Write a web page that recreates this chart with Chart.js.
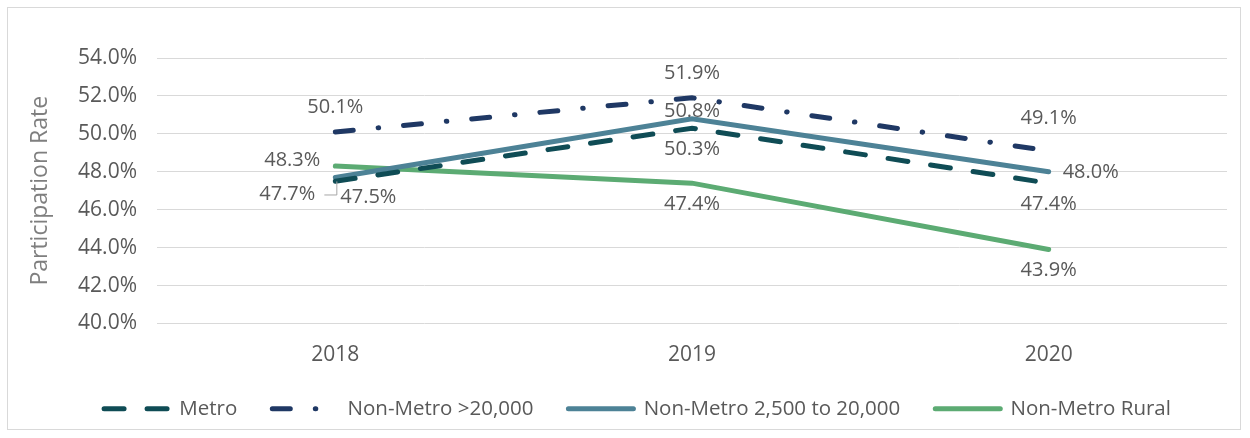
<!DOCTYPE html>
<html>
<head>
<meta charset="utf-8">
<script src="https://cdn.jsdelivr.net/npm/chart.js@4.4.1/dist/chart.umd.min.js"></script>
<style>
  html, body { margin: 0; padding: 0; background: #fff; }
  #wrap { position: relative; width: 1250px; height: 438px; }
  #frame { position: absolute; left: 7px; top: 7px; width: 1234px; height: 423px; border: 1px solid #d9d9d9; box-sizing: border-box; }
  canvas { position: absolute; left: 0; top: 0; }
</style>
</head>
<body>
<div id="wrap">
  <div id="frame"></div>
  <canvas id="myChart" width="1250" height="438"></canvas>
</div>
<script>
// data
const years = ['2018', '2019', '2020'];
const metro = [47.5, 50.3, 47.4];
const nonMetroLarge = [50.1, 51.9, 49.1];
const nonMetroSmall = [47.7, 50.8, 48.0];
const nonMetroRural = [48.3, 47.4, 43.9];
const seriesNames = ['Metro', 'Non-Metro >20,000', 'Non-Metro 2,500 to 20,000', 'Non-Metro Rural'];
const yMin = 40, yMax = 54, yStep = 2;

// where each value label sits next to its point
const labelPlace = [
  ['belowRight', 'below', 'below'],
  ['above', 'above', 'aboveFar'],
  ['leftLeader', 'aboveClose', 'right'],
  ['left', 'below', 'below']
];

const textColor = '#595959';
Chart.defaults.font.family = "'Open Sans', sans-serif";
Chart.defaults.font.size = 21;
Chart.defaults.color = textColor;

const valueLabels = {
  id: 'valueLabels',
  afterDatasetsDraw(chart) {
    const ctx = chart.ctx;
    ctx.save();
    ctx.font = "20px 'Open Sans', sans-serif";
    ctx.fillStyle = textColor;
    ctx.textBaseline = 'middle';
    chart.data.datasets.forEach((ds, i) => {
      const meta = chart.getDatasetMeta(i);
      meta.data.forEach((pt, j) => {
        const txt = ds.data[j].toFixed(1) + '%';
        const p = labelPlace[i][j];
        let x = pt.x, y = pt.y, align = 'center';
        if (p === 'above') { y -= 25; }
        else if (p === 'aboveFar') { y -= 33; }
        else if (p === 'aboveClose') { y -= 7; }
        else if (p === 'below') { y += 21; }
        else if (p === 'belowRight') { x += 33; y += 16; }
        else if (p === 'left') { x -= 15; y -= 6; align = 'right'; }
        else if (p === 'right') { x += 14; y += 1; align = 'left'; }
        else if (p === 'leftLeader') {
          x -= 20; y += 17; align = 'right';
          ctx.save();
          ctx.strokeStyle = '#a6a6a6';
          ctx.lineWidth = 1;
          ctx.beginPath();
          ctx.moveTo(pt.x - 11, y + 0.5);
          ctx.lineTo(pt.x + 1.5, y + 0.5);
          ctx.lineTo(pt.x + 1.5, pt.y + 4);
          ctx.stroke();
          ctx.restore();
        }
        ctx.textAlign = align;
        ctx.fillText(txt, x, y);
      });
    });
    ctx.restore();
  }
};

// nudge the centred legend row to where the original puts it
const legendShift = {
  id: 'legendShift',
  afterLayout(chart) {
    chart.legend.left += 19;
    chart.legend.right += 19;
  }
};

const ctx = document.getElementById('myChart');

new Chart(ctx, {
  type: 'line',
  data: {
    labels: years,
    datasets: [
      {
        label: seriesNames[0],
        data: metro,
        borderColor: '#0f4c55',
        borderWidth: 5,
        borderDash: [20, 23],
        borderCapStyle: 'round'
      },
      {
        label: seriesNames[1],
        data: nonMetroLarge,
        borderColor: '#1f3864',
        borderWidth: 5,
        borderDash: [18, 25, 0.5, 25],
        borderCapStyle: 'round'
      },
      {
        label: seriesNames[2],
        data: nonMetroSmall,
        borderColor: '#4d8296',
        borderWidth: 5,
        borderCapStyle: 'round'
      },
      {
        label: seriesNames[3],
        data: nonMetroRural,
        borderColor: '#5cab73',
        borderWidth: 5,
        borderCapStyle: 'round'
      }
    ]
  },
  options: {
    responsive: false,
    animation: false,
    elements: { point: { radius: 0, hoverRadius: 0 }, line: { tension: 0 } },
    layout: { padding: { left: 10, right: 23, top: 58, bottom: 9 } },
    scales: {
      x: {
        offset: true,
        grid: { display: false, drawTicks: false },
        border: { display: false },
        ticks: { padding: 19, color: textColor },
        afterFit(scale) { scale.height = 40; }
      },
      y: {
        min: yMin,
        max: yMax,
        grid: { color: '#d9d9d9', drawTicks: false },
        border: { display: false },
        ticks: {
          stepSize: yStep,
          padding: 20,
          color: textColor,
          callback: v => v.toFixed(1) + '%'
        },
        title: { display: true, text: 'Participation Rate', color: '#7f7f7f', font: { size: 23 }, padding: { top: 17, bottom: 0 } },
        afterFit(scale) { scale.width = 147; }
      }
    },
    plugins: {
      tooltip: { enabled: false },
      legend: {
        position: 'bottom',
        labels: {
          usePointStyle: true,
          pointStyleWidth: 65,
          boxHeight: 5,
          padding: 35,
          color: textColor,
          font: { size: 20.5 },
          generateLabels(chart) {
            return chart.data.datasets.map((ds, i) => ({
              text: ds.label,
              strokeStyle: ds.borderColor,
              fillStyle: ds.borderColor,
              lineWidth: 5,
              lineDash: ds.borderDash || [],
              lineCap: 'round',
              pointStyle: 'line',
              hidden: false,
              datasetIndex: i,
              fontColor: textColor
            }));
          }
        }
      }
    }
  },
  plugins: [valueLabels, legendShift]
});
</script>
</body>
</html>
